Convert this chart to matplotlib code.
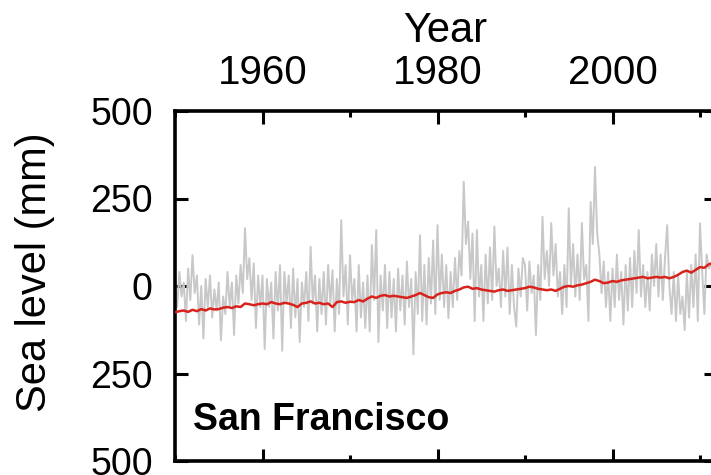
import numpy as np
import matplotlib
matplotlib.use("Agg")
import matplotlib.pyplot as plt
import matplotlib.ticker as ticker

plt.rcParams["font.family"] = ["Liberation Sans", "DejaVu Sans"]

# quarterly tide-gauge anomalies (mm), starting 1950.0
gray_start = 1950.0
gray_step = 0.25
gray_vals = [
    20, -60, 40, -30,      10, -100, 50, -40,     88, -20, 30, -110,
    0, -150, 20, -60,      30, -90, -10, -70,     10, -155, -30, -80,
    40, -60, 10, -140,     30, -50, 60, -20,      165, 20, 80, -40,
    65, -120, 30, -60,     30, -180, 20, -60,     10, -150, 40, -70,
    60, -185, 40, -50,     30, -120, 50, -90,     20, -160, 10, -60,
    40, -100, 112, -50,    30, -130, 20, -80,     40, -110, 60, -50,
    45, -130, 20, -80,     188, -30, 60, -110,    88, -40, 20, -130,
    60, -90, 10, -120,     30, -130, 117, -40,    160, -160, 30, -70,
    60, -120, 40, -90,     20, -130, 50, -70,     30, -110, 70, -60,
    20, -195, 40, -80,     145, -100, 60, -110,   80, -50, 130, -80,
    174, -40, 90, -60,     60, -92, 40, -60,      80, -40, 100, 30,
    298, 120, 184, 20,     150, -100, 160, -30,   60, -100, 90, -50,
    110, -40, 170, 0,      50, -60, 100, -30,     110, -80, 60, -60,
    -116, 50, -30, 80,     60, -70, 70, -20,      30, -140, 60, -40,
    198, 20, 100, 0,       180, 30, 120, -30,     40, -80, 60, -60,
    222, 0, 120, -30,      90, -40, 180, 20,      60, -100, 240, 120,
    340, 150, 90, -20,     70, -60, 40, -100,     50, -60, 90, -40,
    40, -110, 60, -70,     80, -60, 100, -20,     160, -30, 60, -60,
    40, -70, 90, 0,        120, -30, 90, -40,     80, 174, 0, -80,
    40, -100, 30, -80,     -30, -126, 40, -90,    60, -60, 90, -100,
    179, 40, -80, 90,      50, 60,
]

# smoothed trend (mm), half-yearly from 1950.0
red_start = 1950.0
red_step = 0.5
red_vals = [
    -75, -72, -70, -74, -68, -72, -66, -70, -64, -67,
    -66, -62, -60, -63, -58, -60, -50, -52, -55, -52,
    -50, -52, -46, -50, -52, -48, -50, -54, -60, -50,
    -48, -44, -50, -48, -52, -50, -60, -46, -44, -48,
    -45, -46, -40, -44, -36, -30, -34, -28, -26, -30,
    -28, -30, -32, -34, -30, -26, -20, -26, -32, -34,
    -24, -20, -18, -20, -14, -10, -4, -2, -8, -6,
    -10, -12, -14, -16, -12, -10, -14, -12, -10, -8,
    -6, -2, -4, -8, -10, -12, -10, -14, -8, -2,
    0, -2, 2, 4, 8, 12, 18, 14, 8, 10,
    14, 12, 16, 18, 20, 22, 24, 26, 22, 24,
    26, 24, 26, 22, 26, 32, 40, 44, 38, 46,
    54, 52, 62, 66,
]

station = "San Francisco"
year_ticks = [1960, 1980, 2000]
level_ticks = [500, 250, 0, -250, -500]

gray_x = gray_start + gray_step * np.arange(len(gray_vals))
red_x = red_start + red_step * np.arange(len(red_vals))

fig = plt.figure(figsize=(7.11, 4.75), dpi=100)
ax = fig.add_axes([175 / 711, 14 / 475, 541 / 711, 350 / 475])

ax.plot(gray_x, gray_vals, color="#c8c8c8", lw=1.4, zorder=2)
ax.plot(red_x, red_vals, color="#d8231c", lw=1.8, zorder=3)

ax.set_xlim(1950, 1950 + 541 / 8.75)
ax.set_ylim(-500, 500)

ax.xaxis.set_major_locator(ticker.FixedLocator(year_ticks))
ax.xaxis.set_minor_locator(ticker.MultipleLocator(10))
ax.yaxis.set_major_locator(ticker.FixedLocator(level_ticks))
ax.yaxis.set_major_formatter(ticker.FuncFormatter(lambda v, pos: "%d" % abs(v)))

ax.xaxis.tick_top()
ax.xaxis.set_label_position("top")
ax.tick_params(which="both", direction="in", top=True, bottom=True,
               left=True, right=True, width=2.2)
ax.tick_params(which="major", length=9)
ax.tick_params(which="minor", length=4)
ax.tick_params(axis="x", labelsize=29, pad=14, labeltop=True, labelbottom=False)
ax.tick_params(axis="y", labelsize=27, pad=16)
for sp in ax.spines.values():
    sp.set_linewidth(2.6)

ax.set_xlabel("Year", fontsize=30, labelpad=8)
fig.text(35 / 711, 1 - 272 / 475, "Sea level (mm)", fontsize=30,
         rotation=90, ha="center", va="center")

ax.text(0.033, 0.089, station, transform=ax.transAxes, fontsize=27,
        fontweight="bold", ha="left", va="baseline")

fig.savefig("out.png", dpi=100)
